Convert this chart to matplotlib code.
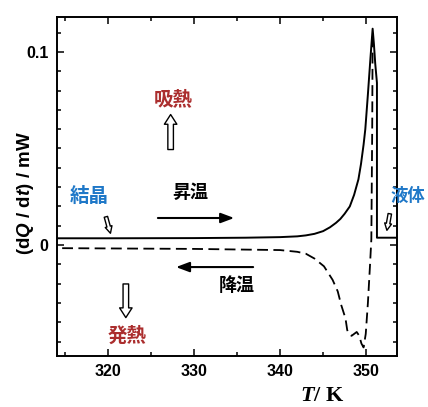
import matplotlib
matplotlib.use('Agg')
import matplotlib.pyplot as plt
from matplotlib.ticker import MultipleLocator

plt.rcParams['mathtext.fontset'] = 'custom'
plt.rcParams['mathtext.it'] = 'Liberation Serif:bold:italic'
plt.rcParams['mathtext.rm'] = 'Liberation Serif:bold'
plt.rcParams['mathtext.sf'] = 'Liberation Sans:bold:italic'

# 昇温 (実線)
T_heat = [314, 320, 330, 336, 340, 342, 343, 344, 345, 345.8, 346.5, 347.0, 347.5,
          348.1, 348.6, 349.1, 349.4, 349.7, 349.9, 350.2, 350.5, 350.75, 350.9,
          351.05, 351.25, 351.25, 353.6]
dQ_heat = [0.0035, 0.0035, 0.0036, 0.0038, 0.0041, 0.0045, 0.0050, 0.0058, 0.0072,
           0.0092, 0.0115, 0.0135, 0.0162, 0.020, 0.026, 0.034, 0.042, 0.052, 0.060,
           0.078, 0.097, 0.112, 0.104, 0.094, 0.084, 0.0038, 0.0038]

# 降温 (破線)
T_cool = [350.75, 350.7, 350.6, 350.45, 350.2, 349.95, 349.7, 349.45, 349.2, 348.9,
          348.6, 348.3, 348.0, 347.8, 347.6, 347.1, 346.7, 346.1, 345.1, 344.0, 343,
          342, 340, 330, 314]
dQ_cool = [0.108, 0.06, 0.003, -0.010, -0.030, -0.046, -0.053, -0.051, -0.047, -0.045,
           -0.046, -0.047, -0.046, -0.044, -0.038, -0.031, -0.024, -0.018, -0.011,
           -0.007, -0.0045, -0.0035, -0.0026, -0.002, -0.0016]

x_ticks = [320, 330, 340, 350]
y_ticks = [0, 0.1]
y_ticklabels = ['0', '0.1']

jp = ['Noto Sans CJK JP', 'DejaVu Sans']
blue = '#1f78c8'
red = '#ab2e2e'

fig = plt.figure(figsize=(4.28, 4.07), dpi=100)
ax = fig.add_axes([0.133, 0.125, 0.795, 0.833])

ax.plot(T_heat, dQ_heat, color='black', lw=1.4)
ax.plot(T_cool, dQ_cool, color='black', lw=1.3, dashes=(6, 3))

ax.set_xlim(314.1, 353.6)
ax.set_ylim(-0.0575, 0.118)
ax.set_xticks(x_ticks)
ax.set_yticks(y_ticks)
ax.set_yticklabels(y_ticklabels)
ax.xaxis.set_minor_locator(MultipleLocator(5))
ax.yaxis.set_minor_locator(MultipleLocator(0.01))
ax.tick_params(which='both', direction='in', top=True, right=True, width=1.1)
ax.tick_params(which='major', length=5, labelsize=11.5, pad=6)
ax.tick_params(which='minor', length=3)
for lab in ax.get_xticklabels() + ax.get_yticklabels():
    lab.set_fontfamily('Liberation Sans')
    lab.set_fontweight('bold')
for s in ax.spines.values():
    s.set_linewidth(1.4)

fig.text(25 / 428, 0.526, r'(d$\mathsf{Q}$ / d$\mathsf{t}$) / mW', rotation=90,
         ha='center', va='center', fontfamily='Liberation Sans', fontweight='bold',
         fontsize=13.5)
ax.text(0.78, -0.118, r'$T$/ K', transform=ax.transAxes, ha='center', va='center',
        fontfamily='Liberation Serif', fontweight='bold', fontsize=16)

hollow = dict(arrowstyle='simple,head_length=0.7,head_width=0.9,tail_width=0.4',
              fc='white', ec='black', lw=1.0)
small = dict(hollow, arrowstyle='simple,head_length=0.5,head_width=0.5,tail_width=0.25')
solid = dict(arrowstyle='-|>,head_length=0.8,head_width=0.3', fc='black', ec='black', lw=1.5)

# 吸熱
ax.text(327.6, 0.075, '吸熱', color=red, fontsize=14, fontweight='bold', family=jp,
        ha='center', va='center')
ax.annotate('', xy=(327.3, 0.069), xytext=(327.3, 0.048), arrowprops=hollow)
# 発熱
ax.text(322.2, -0.047, '発熱', color=red, fontsize=14, fontweight='bold', family=jp,
        ha='center', va='center')
ax.annotate('', xy=(322.1, -0.039), xytext=(322.1, -0.0187), arrowprops=hollow)
# 結晶
ax.text(317.9, 0.025, '結晶', color=blue, fontsize=14, fontweight='bold', family=jp,
        ha='center', va='center')
ax.annotate('', xy=(320.4, 0.0047), xytext=(319.7, 0.016), arrowprops=small)
# 液体
fig.text(390 / 428, 1 - 196 / 407, '液体', color=blue, fontsize=12.5, fontweight='bold',
         family=jp, ha='left', va='center')
ax.annotate('', xy=(352.35, 0.0062), xytext=(352.8, 0.0176), arrowprops=small,
            annotation_clip=False)
# 昇温
ax.text(329.6, 0.027, '昇温', color='black', fontsize=13, fontweight='bold', family=jp,
        ha='center', va='center')
ax.annotate('', xy=(335.0, 0.014), xytext=(325.5, 0.014), arrowprops=solid)
# 降温
ax.text(335.0, -0.021, '降温', color='black', fontsize=13, fontweight='bold', family=jp,
        ha='center', va='center')
ax.annotate('', xy=(327.6, -0.0114), xytext=(337.2, -0.0114), arrowprops=solid)

fig.savefig('out.png', dpi=100)
